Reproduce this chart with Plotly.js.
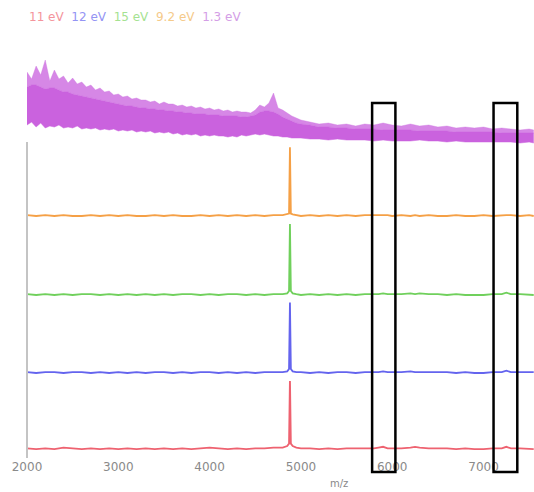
<!DOCTYPE html>
<html>
<head>
<meta charset="utf-8">
<script src="https://cdn.plot.ly/plotly-3.0.1.min.js"></script>
<style>html,body{margin:0;padding:0;background:#fff;}#chart{width:534px;height:492px;}</style>
</head>
<body>
<div id="chart"></div>
<script>
// ---- data (m/z vs relative intensity) ----
const mz = [2000,2100,2200,2300,2400,2500,2600,2700,2800,2900,
  3000,3100,3200,3300,3400,3500,3600,3700,3800,3900,
  4000,4100,4200,4300,4400,4500,4600,4700,4800,
  4850,4870,4880,4890,4910,4950,
  5000,5100,5200,5300,5400,5500,5600,5700,5800,5850,5900,5950,6000,
  6100,6200,6250,6300,6400,6500,6600,6700,6800,6900,
  7000,7100,7200,7250,7300,7400,7500,7550];
const ev11 = [2,1,2,1,3,2,1,2,1,2, 1,2,1,2,1,2,1,2,1,2, 3,2,1,2,1,2,2,3,3, 5,8,90,8,5,3,
  2,2,1,2,1,2,2,2,2,3,4,2,2, 2,3,4,3,2,2,2,1,2,1, 1,2,2,4,2,2,1,1];
const ev12 = [1,0,1,1,0,1,1,0,1,0, 1,0,1,0,1,1,0,1,0,1, 1,0,1,0,1,0,1,1,1, 2,5,88,5,2,1,
  1,0,1,0,1,1,0,1,1,1,2,1,1, 1,2,1,1,1,1,1,0,1,0, 0,1,1,3,1,1,1,1];
const ev15 = [1,0,1,0,1,0,1,1,0,1, 0,1,0,1,0,1,0,1,1,0, 1,0,1,1,0,1,0,1,1, 2,5,89,5,2,1,
  0,1,0,1,0,1,0,1,1,1,2,1,1, 1,2,1,2,1,1,0,1,0,0, 0,1,1,3,1,1,0,0];
const ev92 = [1,0,1,0,1,0,0,1,0,1, 0,1,0,0,1,0,1,0,0,1, 0,1,0,1,0,1,0,1,1, 2,3,86,3,2,1,
  0,1,0,1,0,1,0,1,1,1,1,1,0, 1,0,1,0,1,0,0,1,0,0, 1,0,1,1,1,0,1,0];
const mzLow = [2000,2050,2100,2150,2200,2250,2300,2350,2400,2450,
  2500,2550,2600,2650,2700,2750,2800,2850,2900,2950,
  3000,3050,3100,3150,3200,3250,3300,3350,3400,3450,
  3500,3550,3600,3650,3700,3750,3800,3850,3900,3950,
  4000,4050,4100,4150,4200,4250,4300,4350,4400,4450,
  4500,4550,4600,4650,4700,4750,4800,4850,4900,4950,
  5000,5100,5200,5300,5400,5500,5600,5700,5800,5900,
  6000,6100,6200,6300,6400,6500,6600,6700,6800,6900,
  7000,7100,7200,7300,7400,7500,7550];
const ev13Max = [73,66,79,70,85,64,75,66,69,62, 67,61,63,58,60,55,57,53,54,50,
  51,48,49,46,47,45,45,43,44,41, 43,41,41,39,40,38,39,37,38,36,
  37,35,36,34,35,33,34,33,33,32, 35,40,38,42,52,37,35,32,29,27,
  25,23,21,22,20,21,19,21,20,22, 20,19,21,19,20,18,19,17,18,17,
  18,16,17,16,15,16,15];
const ev13Body = [58,60,60,58,56,57,57,55,53,53, 51,50,49,48,47,46,45,44,43,42,
  41,40,39,39,38,37,37,36,36,35, 35,34,34,33,33,32,32,31,31,31,
  30,30,30,29,29,29,29,28,28,29, 30,33,34,34,33,31,28,26,24,22,
  21,20,18,18,17,17,16,16,16,15, 15,15,15,14,14,14,14,13,13,13,
  13,13,12,12,12,12,12];
const ev13Min = [20,23,18,22,17,19,18,20,17,18, 17,19,16,17,16,17,15,16,15,16,
  14,15,14,15,13,14,13,14,12,13, 12,13,11,12,10,11,10,11,9,10,
  9,10,9,9,8,9,8,10,9,10, 11,10,11,10,9,9,8,8,7,7,
  7,6,6,5,6,5,5,5,4,5, 4,4,4,5,4,4,3,4,3,3,
  3,3,3,3,2,3,2];
const labels = ['11 eV','12 eV','15 eV','9.2 eV','1.3 eV'];
const boxes = [[5780,6035],[7110,7370]];

const cRed='rgb(238,98,112)', cBlue='rgb(100,100,238)', cGreen='rgb(112,208,92)',
      cOrange='rgb(245,160,70)', cPurple='rgb(202,98,222)';

const traces = [
  {x:mz, y:ev11, yaxis:'y', name:labels[0], mode:'lines', line:{color:cRed,width:1.8}},
  {x:mz, y:ev12, yaxis:'y2', name:labels[1], mode:'lines', line:{color:cBlue,width:1.8}},
  {x:mz, y:ev15, yaxis:'y3', name:labels[2], mode:'lines', line:{color:cGreen,width:1.8}},
  {x:mz, y:ev92, yaxis:'y4', name:labels[3], mode:'lines', line:{color:cOrange,width:1.8}},
  {x:mzLow, y:ev13Min, yaxis:'y5', name:labels[4], mode:'lines', line:{color:cPurple,width:0.5}},
  {x:mzLow, y:ev13Body, yaxis:'y5', name:labels[4], mode:'lines', fill:'tonexty', fillcolor:cPurple, line:{color:cPurple,width:0.5}},
  {x:mzLow, y:ev13Max, yaxis:'y5', name:labels[4], mode:'lines', fill:'tonexty', fillcolor:'rgba(205,108,225,0.82)', line:{color:'rgba(205,115,225,0.6)',width:0.6}}
];

const H = 403, bottomPx = 458;
function frac(px){ return (bottomPx - px)/H; }
const hidden = {visible:false, fixedrange:true};

const layout = {
  width:534, height:492,
  margin:{l:27, r:0, t:55, b:34},
  paper_bgcolor:'#fff', plot_bgcolor:'#fff',
  showlegend:false,
  font:{family:'DejaVu Sans, Arial, sans-serif', color:'#888'},
  xaxis:{range:[2000,7553], tickvals:[2000,3000,4000,5000,6000,7000], ticktext:['2000','3000','4000','5000','6000','7000'],
    showgrid:false, zeroline:false, showline:false, ticks:'', tickfont:{size:12, color:'#8a8a8a'}},
  yaxis: Object.assign({domain:[0, frac(370)], range:[-10,100]}, hidden),
  yaxis2: Object.assign({domain:[frac(381), frac(293)], range:[-10,100]}, hidden),
  yaxis3: Object.assign({domain:[frac(303), frac(215)], range:[-10,100]}, hidden),
  yaxis4: Object.assign({domain:[frac(224), frac(136)], range:[-10,100]}, hidden),
  yaxis5: Object.assign({domain:[frac(145), 1], range:[0,90]}, hidden),
  shapes:[
    {type:'line', xref:'paper', yref:'paper', x0:0, x1:0, y0:frac(458), y1:frac(142), line:{color:'#c4c4c4', width:2}},
    ...boxes.map(b => ({type:'rect', xref:'x', yref:'paper', x0:b[0], x1:b[1], y0:frac(472), y1:frac(103), line:{color:'#000', width:2.5}, fillcolor:'rgba(0,0,0,0)'}))
  ],
  annotations:[
    {xref:'paper', yref:'paper', x:0, y:frac(17), xanchor:'left', yanchor:'middle', showarrow:false,
     font:{size:12, family:'DejaVu Sans, Arial, sans-serif'},
     text:'<span style="color:rgb(244,148,156)">'+labels[0]+'</span>&nbsp;&nbsp;<span style="color:rgb(148,148,244)">'+labels[1]+
       '</span>&nbsp;&nbsp;<span style="color:rgb(165,226,145)">'+labels[2]+'</span>&nbsp;&nbsp;<span style="color:rgb(245,202,138)">'+labels[3]+
       '</span>&nbsp;&nbsp;<span style="color:rgb(212,158,230)">'+labels[4]+'</span>'},
    {xref:'paper', yref:'paper', x:(339-27)/507, y:frac(483), xanchor:'center', yanchor:'middle', showarrow:false,
     text:'m/z', font:{size:10, color:'#888'}}
  ]
};

Plotly.newPlot('chart', traces, layout, {displayModeBar:false, staticPlot:true});
</script>
</body>
</html>
